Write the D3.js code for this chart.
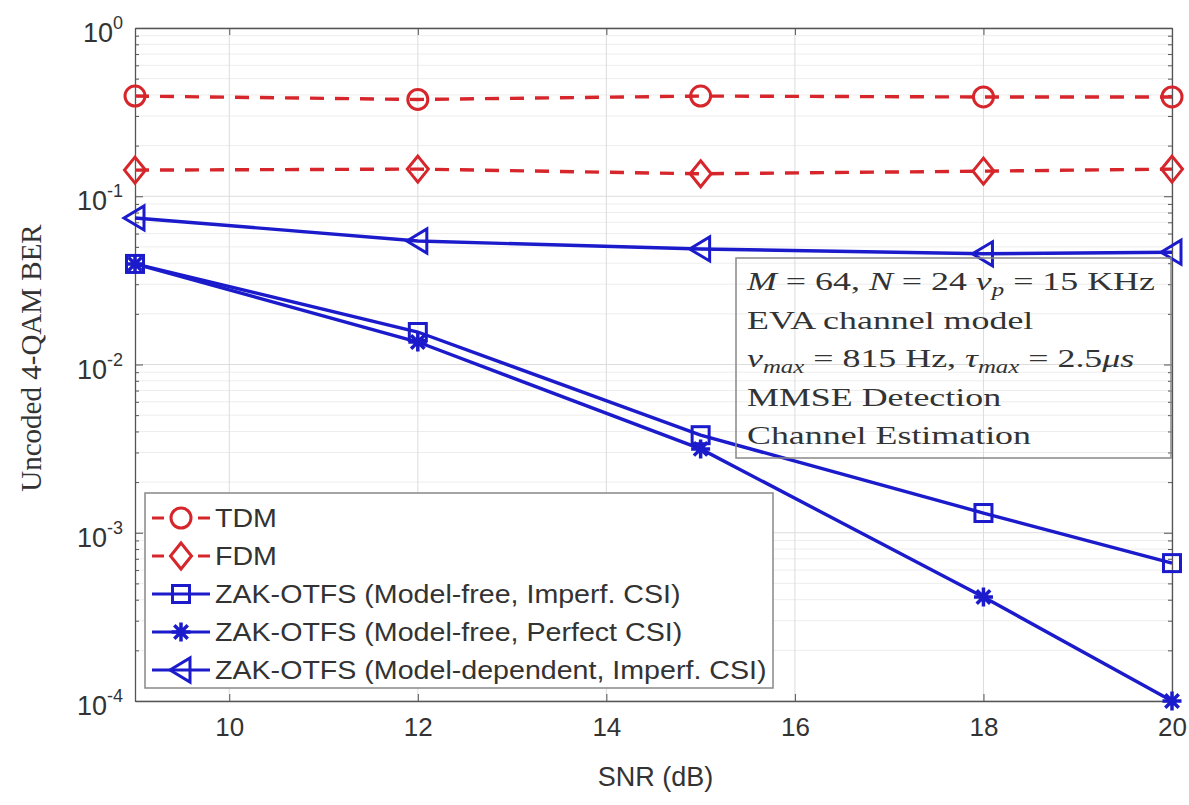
<!DOCTYPE html>
<html>
<head>
<meta charset="utf-8">
<script src="https://cdn.jsdelivr.net/npm/d3@7"></script>
<style>
  html, body { margin: 0; padding: 0; background: #ffffff; }
  svg { display: block; }
</style>
</head>
<body>
<svg id="chart" width="1189" height="805"></svg>
<script>
// ---------------- DATA ----------------
const snr = [9, 12, 15, 18, 20];
const tdm = [0.394, 0.376, 0.394, 0.389, 0.389];
const fdm = [0.143, 0.145, 0.136, 0.141, 0.145];
const zakFreeImperf = [0.0396, 0.0156, 0.0038, 0.00131, 0.00066];
const zakFreePerfect = [0.0396, 0.0136, 0.00315, 0.000415, 0.0001];
const zakDepImperf = [0.0743, 0.0542, 0.0486, 0.0455, 0.0465];

const seriesNames = [
  "TDM",
  "FDM",
  "ZAK-OTFS (Model-free, Imperf. CSI)",
  "ZAK-OTFS (Model-free, Perfect CSI)",
  "ZAK-OTFS (Model-dependent, Imperf. CSI)"
];
const xTicks = [10, 12, 14, 16, 18, 20];
const yTickExps = [0, -1, -2, -3, -4];
const xLabel = "SNR (dB)";
const yLabel = "Uncoded 4-QAM BER";

// ---------------- SETUP ----------------
const RED = "#d6262b";
const BLUE = "#1b1bcc";
const SANS = "'Liberation Sans', Arial, sans-serif";
const SERIF = "'Liberation Serif', 'Times New Roman', serif";

const series = [
  { name: seriesNames[0], values: tdm, color: RED, dash: "14,11", marker: "circle" },
  { name: seriesNames[1], values: fdm, color: RED, dash: "14,11", marker: "diamond" },
  { name: seriesNames[2], values: zakFreeImperf, color: BLUE, dash: null, marker: "square" },
  { name: seriesNames[3], values: zakFreePerfect, color: BLUE, dash: null, marker: "star" },
  { name: seriesNames[4], values: zakDepImperf, color: BLUE, dash: null, marker: "triangle" }
];

const L = 135, R = 1172, T = 28, B = 701;
const svg = d3.select("#chart");

const x = d3.scaleLinear().domain([9, 20]).range([L, R]);
const y = d3.scaleLog().domain([1e-4, 1]).range([B, T]);

// ---------------- GRID ----------------
const grid = svg.append("g");
const minorVals = [];
for (let e = -4; e < 0; e++) for (let m = 2; m <= 9; m++) minorVals.push(m * Math.pow(10, e));
grid.selectAll("line.minor").data(minorVals).enter().append("line")
  .attr("x1", L).attr("x2", R)
  .attr("y1", d => y(d)).attr("y2", d => y(d))
  .attr("stroke", "#ededed").attr("stroke-width", 1);
grid.selectAll("line.majh").data(yTickExps).enter().append("line")
  .attr("x1", L).attr("x2", R)
  .attr("y1", d => y(Math.pow(10, d))).attr("y2", d => y(Math.pow(10, d)))
  .attr("stroke", "#dcdcdc").attr("stroke-width", 1);
grid.selectAll("line.majv").data(xTicks).enter().append("line")
  .attr("x1", d => x(d)).attr("x2", d => x(d))
  .attr("y1", T).attr("y2", B)
  .attr("stroke", "#dcdcdc").attr("stroke-width", 1);

// ---------------- AXES ----------------
const axisColor = "#555";
const bottomAxis = d3.axisBottom(x).tickValues(xTicks).tickSizeInner(-7).tickSizeOuter(0).tickPadding(15);
const gx = svg.append("g").attr("transform", `translate(0,${B})`).call(bottomAxis);
gx.select(".domain").attr("stroke", axisColor).attr("stroke-width", 1.3);
gx.selectAll(".tick line").attr("stroke", axisColor);
gx.selectAll(".tick text").attr("font-family", SANS).attr("font-size", 26).attr("fill", "#333").attr("dy", "0.75em");

const topAxis = d3.axisTop(x).tickValues(xTicks).tickSizeInner(-7).tickSizeOuter(0).tickFormat("");
const gxt = svg.append("g").attr("transform", `translate(0,${T})`).call(topAxis);
gxt.select(".domain").attr("stroke", axisColor).attr("stroke-width", 1.3);
gxt.selectAll(".tick line").attr("stroke", axisColor);

const leftAxis = d3.axisLeft(y).tickValues(yTickExps.map(e => Math.pow(10, e))).tickSizeInner(-8).tickSizeOuter(0).tickFormat("");
const gy = svg.append("g").attr("transform", `translate(${L},0)`).call(leftAxis);
gy.select(".domain").attr("stroke", axisColor).attr("stroke-width", 1.3);
gy.selectAll(".tick line").attr("stroke", axisColor);
const leftMinor = d3.axisLeft(y).tickValues(minorVals).tickSizeInner(-4).tickSizeOuter(0).tickFormat("");
const gym = svg.append("g").attr("transform", `translate(${L},0)`).call(leftMinor);
gym.select(".domain").remove();
gym.selectAll(".tick line").attr("stroke", axisColor);

const rightAxis = d3.axisRight(y).tickValues(yTickExps.map(e => Math.pow(10, e))).tickSizeInner(-8).tickSizeOuter(0).tickFormat("");
const gyr = svg.append("g").attr("transform", `translate(${R},0)`).call(rightAxis);
gyr.select(".domain").attr("stroke", axisColor).attr("stroke-width", 1.3);
gyr.selectAll(".tick line").attr("stroke", axisColor);
const rightMinor = d3.axisRight(y).tickValues(minorVals).tickSizeInner(-4).tickSizeOuter(0).tickFormat("");
const gyrm = svg.append("g").attr("transform", `translate(${R},0)`).call(rightMinor);
gyrm.select(".domain").remove();
gyrm.selectAll(".tick line").attr("stroke", axisColor);

// y tick labels
const ylab = svg.append("g");
yTickExps.forEach(e => {
  const t = ylab.append("text")
    .attr("x", 123).attr("y", y(Math.pow(10, e)) + 14)
    .attr("text-anchor", "end")
    .attr("font-family", SANS).attr("font-size", 27).attr("fill", "#333");
  t.append("tspan").text("10");
  t.append("tspan").attr("font-size", 18).attr("dy", -13).text(e === 0 ? "0" : "-" + Math.abs(e));
});

// axis titles
svg.append("text")
  .attr("x", (L + R) / 2 + 2).attr("y", 786)
  .attr("text-anchor", "middle")
  .attr("font-family", SANS).attr("font-size", 27).attr("fill", "#333")
  .text(xLabel);
svg.append("text")
  .attr("transform", `translate(41,358) rotate(-90)`)
  .attr("text-anchor", "middle")
  .attr("font-family", SERIF).attr("font-size", 29).attr("fill", "#333")
  .text(yLabel);

// ---------------- MARKERS ----------------
function drawMarker(g, type, cx, cy, color) {
  const sw = 3;
  if (type === "circle") {
    g.append("circle").attr("cx", cx).attr("cy", cy).attr("r", 10)
      .attr("fill", "none").attr("stroke", color).attr("stroke-width", sw);
  } else if (type === "diamond") {
    g.append("path").attr("d", `M${cx},${cy - 13}L${cx + 10.5},${cy}L${cx},${cy + 13}L${cx - 10.5},${cy}Z`)
      .attr("fill", "none").attr("stroke", color).attr("stroke-width", sw);
  } else if (type === "square") {
    g.append("rect").attr("x", cx - 8.5).attr("y", cy - 8.5).attr("width", 17).attr("height", 17)
      .attr("fill", "none").attr("stroke", color).attr("stroke-width", sw);
  } else if (type === "triangle") {
    g.append("path").attr("d", `M${cx - 11},${cy}L${cx + 9},${cy - 12}L${cx + 9},${cy + 12}Z`)
      .attr("fill", "none").attr("stroke", color).attr("stroke-width", sw);
  } else if (type === "star") {
    const r = 9.5;
    let d = "";
    for (let k = 0; k < 4; k++) {
      const a = k * Math.PI / 4;
      d += `M${cx - r * Math.cos(a)},${cy - r * Math.sin(a)}L${cx + r * Math.cos(a)},${cy + r * Math.sin(a)}`;
    }
    g.append("path").attr("d", d).attr("fill", "none").attr("stroke", color).attr("stroke-width", 3.5);
  }
}

// ---------------- LINES ----------------
const lineGen = d3.line().x(d => x(d[0])).y(d => y(d[1]));
const plot = svg.append("g");
series.forEach(s => {
  const pts = snr.map((v, i) => [v, s.values[i]]);
  plot.append("path").datum(pts)
    .attr("d", lineGen)
    .attr("fill", "none").attr("stroke", s.color).attr("stroke-width", 3.4)
    .attr("stroke-dasharray", s.dash);
  const mg = plot.append("g");
  pts.forEach(p => drawMarker(mg, s.marker, x(p[0]), y(p[1]), s.color));
});

// ---------------- ANNOTATION BOX ----------------
const ann = svg.append("g");
ann.append("rect").attr("x", 736).attr("y", 258).attr("width", 435).attr("height", 200)
  .attr("fill", "none").attr("stroke", "#888").attr("stroke-width", 1.5);
const annLines = [
  [["M", "i"], [" = 64, ", "n"], ["N", "i"], [" = 24 ", "n"], ["ν", "i"], ["p", "s"], [" = 15 KHz", "n"]],
  [["EVA channel model", "n"]],
  [["ν", "i"], ["max", "s"], [" = 815 Hz, ", "n"], ["τ", "i"], ["max", "s"], [" = 2.5", "n"], ["μs", "i"]],
  [["MMSE Detection", "n"]],
  [["Channel Estimation", "n"]]
];
const annTexts = [];
annLines.forEach((parts, i) => {
  const t = ann.append("text")
    .attr("x", 0).attr("y", 0)
    .attr("font-family", SERIF).attr("font-size", 26).attr("fill", "#333");
  let sub = false;
  parts.forEach(([txt, kind]) => {
    const sp = t.append("tspan").text(txt);
    if (kind === "i") sp.attr("font-style", "italic");
    if (kind === "s") {
      sp.attr("font-style", "italic").attr("font-size", 18).attr("dy", 6);
      sub = true;
    } else if (sub) {
      sp.attr("dy", -6);
      sub = false;
    }
  });
  annTexts.push(t);
});
// widen the serif text horizontally to the reference's wide math font look
const firstW = annTexts[0].node().getComputedTextLength();
const sx = 408 / firstW;
annTexts.forEach((t, i) => {
  t.attr("transform", `translate(747,${290 + i * 38.5}) scale(${sx},1)`);
});

// ---------------- LEGEND ----------------
const leg = svg.append("g");
leg.append("rect").attr("x", 145).attr("y", 493).attr("width", 628).attr("height", 195)
  .attr("fill", "#ffffff").attr("stroke", "#888").attr("stroke-width", 1.5);
series.forEach((s, i) => {
  const cy = 518 + i * 38;
  leg.append("line").attr("x1", 152).attr("x2", 210).attr("y1", cy).attr("y2", cy)
    .attr("stroke", s.color).attr("stroke-width", 3)
    .attr("stroke-dasharray", s.dash ? "12,34,12" : null);
  drawMarker(leg, s.marker, 181, cy, s.color);
  const t = leg.append("text")
    .attr("font-family", SANS).attr("font-size", 26).attr("fill", "#333")
    .text(s.name);
  t.attr("transform", `translate(215,${cy + 9}) scale(1.1,1)`);
});
</script>
</body>
</html>
